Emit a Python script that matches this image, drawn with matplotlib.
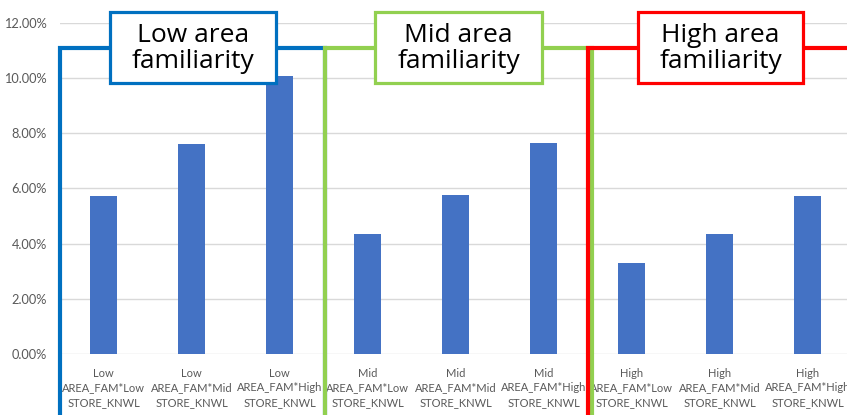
import matplotlib.pyplot as plt
from matplotlib.patches import Rectangle
from matplotlib.ticker import PercentFormatter

plt.rcParams['font.family'] = ['Lato', 'DejaVu Sans']

area_levels = ['Low', 'Mid', 'High']
store_levels = ['Low', 'Mid', 'High']
values = [0.0571, 0.0761, 0.1007,
          0.0436, 0.0575, 0.0764,
          0.0328, 0.0433, 0.0571]
labels = [f'{a}\nAREA_FAM*{s}\nSTORE_KNWL' for a in area_levels for s in store_levels]
group_titles = ['Low area\nfamiliarity', 'Mid area\nfamiliarity', 'High area\nfamiliarity']
group_colors = ['#0070C0', '#92D050', '#FF0000']

W, H = 847, 415
fig = plt.figure(figsize=(W / 100, H / 100), dpi=100)
ax = fig.add_axes([59.5 / W, 1 - 354 / H, 792 / W, 331.3 / H])

x = list(range(len(values)))
ax.bar(x, values, width=0.31, color='#4472C4', zorder=2)

ax.set_xlim(-0.5, 8.5)
ax.set_ylim(0, 0.12)
ax.set_yticks([0, 0.02, 0.04, 0.06, 0.08, 0.10, 0.12])
ax.yaxis.set_major_formatter(PercentFormatter(1.0, decimals=2))
ax.set_xticks(x)
ax.set_xticklabels(labels, linespacing=1.4)
ax.tick_params(axis='both', length=0, colors='#595959')
ax.tick_params(axis='y', pad=9, labelsize=9.2)
ax.tick_params(axis='x', pad=10, labelsize=8)
ax.grid(axis='y', color='#D9D9D9', linewidth=1)
ax.set_axisbelow(True)
for s in ax.spines.values():
    s.set_visible(False)

# brackets around each area-familiarity group
top = 0.1108
bottom = -0.04
brackets = [(-0.494, 2.517), (2.517, 5.55), (5.506, 8.6)]
for (x0, x1), c in zip(brackets, group_colors):
    ax.plot([x0, x0, x1, x1], [bottom, top, top, bottom], color=c, lw=3,
            clip_on=False, zorder=5, solid_joinstyle='miter')

# group title boxes
boxes = [(110, 276), (375, 542), (638, 803)]
for (px0, px1), c, t in zip(boxes, group_colors, group_titles):
    fig.patches.append(Rectangle((px0 / W, 1 - 83 / H), (px1 - px0) / W, 71 / H,
                                 transform=fig.transFigure, facecolor='white',
                                 edgecolor=c, lw=2.3, zorder=6))
    fig.text((px0 + px1) / 2 / W, 1 - 48.5 / H, t, ha='center', va='center',
             fontsize=19, family='Open Sans', color='black', linespacing=1.0, zorder=7)

fig.savefig('out.png', dpi=100)
